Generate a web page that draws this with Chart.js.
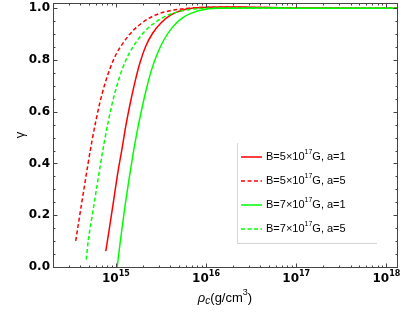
<!DOCTYPE html>
<html><head><meta charset="utf-8">
<script src="https://cdn.jsdelivr.net/npm/chart.js@4/dist/chart.umd.min.js"></script>
<style>html,body{margin:0;padding:0;background:#fff}</style>
</head><body>
<canvas id="c" width="407" height="315"></canvas>
<script>
// ---- data (rho_c in g/cm^3, gamma) ----
const rhoRedA1   = [7.74e14, 8.58e14, 9.50e14, 1.05e15, 1.17e15, 1.29e15, 1.43e15, 1.63e15, 1.85e15, 2.15e15, 2.58e15, 3.16e15, 4.08e15, 5.70e15, 8.58e15, 1.5e16, 3.0e16, 1.0e17, 1.0e18, 1.31e18];
const gammaRedA1 = [0.061,   0.161,   0.262,   0.363,   0.456,   0.545,   0.626,   0.715,   0.789,   0.854,   0.905,   0.943,   0.974,   0.994,   1.002,   1.005,  1.004,  1.001,  1.000,  1.000];

const rhoRedA5   = [3.59e14, 3.98e14, 4.41e14, 4.89e14, 5.41e14, 6.00e14, 6.64e14, 7.55e14, 8.58e14, 1.00e15, 1.23e15, 1.51e15, 1.95e15, 2.64e15, 3.98e15, 6.64e15, 1.2e16, 3.0e16, 1.0e17, 1.0e18, 1.31e18];
const gammaRedA5 = [0.101,   0.200,   0.297,   0.394,   0.483,   0.564,   0.634,   0.707,   0.765,   0.820,   0.870,   0.909,   0.943,   0.971,   0.990,   1.000,   1.004,  1.003,  1.001,  1.000,  1.000];

const rhoGreenA1   = [1.034e15, 1.136e15, 1.259e15, 1.395e15, 1.545e15, 1.711e15, 1.896e15, 2.154e15, 2.448e15, 2.855e15, 3.415e15, 4.19e15, 5.275e15, 6.99e15, 1.0e16, 1.626e16, 3.0e16, 1.0e17, 1.0e18, 1.31e18];
const gammaGreenA1 = [0.000,    0.115,    0.231,    0.336,    0.432,    0.518,    0.595,    0.680,    0.754,    0.820,    0.878,    0.924,   0.959,    0.982,   0.996,  1.000,    1.001,  1.000,  1.000,  1.000];

const rhoGreenA5   = [4.70e14, 4.94e14, 5.48e14, 6.07e14, 6.73e14, 7.45e14, 8.26e14, 9.14e14, 1.04e15, 1.18e15, 1.38e15, 1.69e15, 2.07e15, 2.68e15, 3.64e15, 5.48e15, 9.14e15, 3.0e16, 1.0e17, 1.0e18, 1.31e18];
const gammaGreenA5 = [0.029,   0.101,   0.200,   0.297,   0.394,   0.483,   0.564,   0.634,   0.707,   0.765,   0.820,   0.870,   0.909,   0.943,   0.971,   0.990,   0.999,   1.001,  1.000,  1.000,  1.000];

const seriesLabels = ['B=5×10^17G, a=1', 'B=5×10^17G, a=5', 'B=7×10^17G, a=1', 'B=7×10^17G, a=5'];
const xTickValues = [1e15, 1e16, 1e17, 1e18];
const yTickValues = [0, 0.2, 0.4, 0.6, 0.8, 1.0];
const xMin = 2.01e14, xMax = 1.31e18, yMin = 0, yMax = 1.02;

function pts(xs, ys){ return xs.map((x,i)=>({x:x, y:ys[i]})); }

const RED = '#ff0000', GREEN = '#00ff00', FRAME = '#444';
const DASH = [4, 2.5];

const datasets = [
  {label: seriesLabels[0], data: pts(rhoRedA1, gammaRedA1), borderColor: RED, borderDash: [], order: 3},
  {label: seriesLabels[1], data: pts(rhoRedA5, gammaRedA5), borderColor: RED, borderDash: DASH, order: 2},
  {label: seriesLabels[2], data: pts(rhoGreenA1, gammaGreenA1), borderColor: GREEN, borderDash: [], order: 1},
  {label: seriesLabels[3], data: pts(rhoGreenA5, gammaGreenA5), borderColor: GREEN, borderDash: DASH, order: 0}
];
datasets.forEach(d => { d.borderWidth = 1.5; d.pointRadius = 0; d.fill = false; d.cubicInterpolationMode = 'monotone'; });

function drawRich(ctx, str, x, y, size, bold, align){
  const parts = [];
  const re = /\^(\d+)/g; let last = 0, m;
  while ((m = re.exec(str))){ if (m.index > last) parts.push({t: str.slice(last, m.index), sup:false}); parts.push({t:m[1], sup:true}); last = re.lastIndex; }
  if (last < str.length) parts.push({t: str.slice(last), sup:false});
  const w = bold ? 'bold ' : '';
  const fam = bold ? '"DejaVu Sans"' : '"Liberation Sans"';
  const mainF = w + size + 'px ' + fam, supF = w + Math.round(size*0.68) + 'px ' + fam;
  let total = 0;
  parts.forEach(p => { ctx.font = p.sup ? supF : mainF; p.w = ctx.measureText(p.t).width; total += p.w; });
  let cx = align === 'center' ? x - total/2 : (align === 'right' ? x - total : x);
  ctx.textAlign = 'left'; ctx.textBaseline = 'middle';
  parts.forEach(p => { ctx.font = p.sup ? supF : mainF; ctx.fillText(p.t, cx, p.sup ? y - size*0.42 : y); cx += p.w; });
}

const framePlugin = {
  id: 'frame',
  afterDraw(chart){
    const ctx = chart.ctx, a = chart.chartArea, xs = chart.scales.x, ys = chart.scales.y;
    ctx.save();
    ctx.strokeStyle = FRAME; ctx.lineWidth = 1;
    const L = Math.round(a.left)+0.5, R = Math.round(a.left)+0.5+Math.round(a.right-a.left);
    const T = Math.round(a.top)+0.5, B = Math.round(a.top)+0.5+Math.round(a.bottom-a.top);
    ctx.strokeRect(L, T, R-L, B-T);
    ctx.beginPath();
    for (let d = 14; d <= 18; d++){
      for (let k = 1; k <= 9; k++){
        const v = k * Math.pow(10, d);
        if (v < xMin || v > xMax) continue;
        const px = Math.round(xs.getPixelForValue(v)) + 0.5;
        const len = k === 1 ? 4 : 2;
        ctx.moveTo(px, B); ctx.lineTo(px, B - len);
        ctx.moveTo(px, T); ctx.lineTo(px, T + len);
      }
    }
    for (let i = 0; i <= Math.round(yMax/0.05); i++){
      const v = i * 0.05; if (v > yMax) continue;
      const py = Math.round(ys.getPixelForValue(v)) + 0.5;
      const len = (i % 4 === 0) ? 4 : 2;
      ctx.moveTo(L, py); ctx.lineTo(L + len, py);
      ctx.moveTo(R, py); ctx.lineTo(R - len, py);
    }
    ctx.stroke();
    ctx.fillStyle = '#000';
    yTickValues.forEach(v => {
      ctx.font = 'bold 12px "DejaVu Sans"'; ctx.textAlign = 'right'; ctx.textBaseline = 'middle';
      ctx.fillText(v.toFixed(1), a.left - 3, ys.getPixelForValue(v));
    });
    xTickValues.forEach(v => {
      drawRich(ctx, '10^' + Math.round(Math.log10(v)), xs.getPixelForValue(v), a.bottom + 12, 12, true, 'center');
    });
    ctx.save();
    ctx.translate(20, (a.top + a.bottom)/2);
    ctx.rotate(-Math.PI/2);
    ctx.font = '13px "Liberation Sans"'; ctx.textAlign = 'center'; ctx.textBaseline = 'middle';
    ctx.fillText('γ', 0, 0);
    ctx.restore();
    (function(){
      const y = 298, parts = [
        {t:'ρ', f:'italic 13px "Liberation Sans"', dy:0},
        {t:'c', f:'italic 10px "Liberation Sans"', dy:3},
        {t:'(g/cm', f:'13px "Liberation Sans"', dy:0},
        {t:'3', f:'9px "Liberation Sans"', dy:-5},
        {t:')', f:'13px "Liberation Sans"', dy:0}];
      let tot = 0; parts.forEach(p => { ctx.font = p.f; p.w = ctx.measureText(p.t).width; tot += p.w; });
      let cx = (a.left + a.right)/2 - tot/2;
      ctx.textAlign = 'left'; ctx.textBaseline = 'middle';
      parts.forEach(p => { ctx.font = p.f; ctx.fillText(p.t, cx, y + p.dy); cx += p.w; });
    })();
    const lx = 237, ly = 143, lw = 140, lh = 100;
    ctx.fillStyle = '#fff'; ctx.fillRect(lx, ly, lw, lh);
    ctx.strokeStyle = '#d4d4d4'; ctx.lineWidth = 1;
    ctx.beginPath(); ctx.moveTo(lx + 0.5, ly); ctx.lineTo(lx + 0.5, ly + lh + 0.5); ctx.lineTo(lx + lw, ly + lh + 0.5); ctx.stroke();
    chart.data.datasets.forEach((ds, i) => {
      const y = 157 + i * 24;
      ctx.strokeStyle = ds.borderColor; ctx.lineWidth = 1.5; ctx.setLineDash(ds.borderDash);
      ctx.beginPath(); ctx.moveTo(241, y); ctx.lineTo(262, y); ctx.stroke();
      ctx.setLineDash([]);
      ctx.fillStyle = '#000';
      drawRich(ctx, ds.label, 266, y, 11, false, 'left');
    });
    ctx.restore();
  }
};

new Chart(document.getElementById('c'), {
  type: 'line',
  data: {datasets: datasets},
  options: {
    responsive: false, animation: false, devicePixelRatio: 1,
    layout: {padding: {left: 53, right: 10, top: 3, bottom: 48}},
    scales: {
      x: {type: 'logarithmic', min: xMin, max: xMax, display: false},
      y: {type: 'linear', min: yMin, max: yMax, display: false}
    },
    plugins: {legend: {display: false}, tooltip: {enabled: false}}
  },
  plugins: [framePlugin]
});
</script>
</body></html>
